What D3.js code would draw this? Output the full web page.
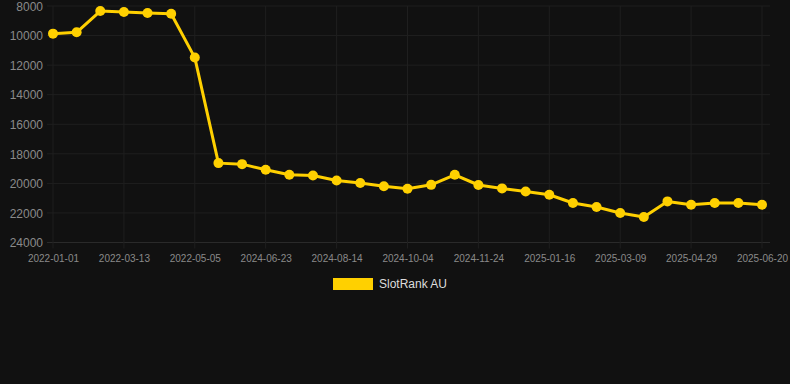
<!DOCTYPE html>
<html>
<head>
<meta charset="utf-8">
<script src="https://cdn.jsdelivr.net/npm/d3@7"></script>
<style>
  html, body { margin: 0; padding: 0; background: #111111; }
  #viz { width: 790px; height: 384px; }
  text { font-family: "Liberation Sans", Arial, sans-serif; }
</style>
</head>
<body>
<div id="viz"></div>
<script>
// dates on the x axis (every 3rd one is labelled)
var dates = ["2022-01-01","2022-01-25","2022-02-18","2022-03-13","2022-03-31","2022-04-18","2022-05-05",
  "2024-05-15","2024-06-06","2024-06-23","2024-07-10","2024-07-28","2024-08-14","2024-08-31","2024-09-17",
  "2024-10-04","2024-10-21","2024-11-07","2024-11-24","2024-12-11","2024-12-29","2025-01-16","2025-02-02",
  "2025-02-19","2025-03-09","2025-03-26","2025-04-12","2025-04-29","2025-05-16","2025-06-02","2025-06-20"]
var rank = [9870, 9780, 8340, 8400, 8470, 8520, 11490,
  18630, 18700, 19080, 19420, 19470, 19800, 19980, 20200,
  20360, 20100, 19420, 20110, 20340, 20550, 20770, 21330,
  21600, 22000, 22280, 21220, 21450, 21330, 21330, 21450]
var yTicks = [8000, 10000, 12000, 14000, 16000, 18000, 20000, 22000, 24000]
var seriesName = "SlotRank AU"

var W = 790, H = 384
var margin = {top: 6, left: 53, right: 28, bottom: 141}
var lineColor = "#ffd000"

function chartMaker() {
  var svg = d3.select("#viz").append("svg")
    .attr("width", W)
    .attr("height", H)

  var xScale = d3.scalePoint()
    .domain(dates)
    .range([margin.left, W - margin.right])

  var yScale = d3.scaleLinear()
    .domain([8000, 24000])
    .range([margin.top, H - margin.bottom - 0.5])

  var labelled = dates.filter(function(d, i) { return i % 3 == 0 })

  // grid
  svg.append("g")
    .selectAll("line")
    .data(yTicks)
    .enter()
    .append("line")
      .attr("x1", margin.left - 6)
      .attr("x2", W - margin.right + 8)
      .attr("y1", d => yScale(d))
      .attr("y2", d => yScale(d))
      .attr("stroke", d => d == 24000 ? "#2a2a2a" : "#1f1f1f")
      .attr("stroke-width", 1)

  svg.append("g")
    .selectAll("line")
    .data(labelled)
    .enter()
    .append("line")
      .attr("x1", d => xScale(d))
      .attr("x2", d => xScale(d))
      .attr("y1", margin.top)
      .attr("y2", yScale(24000) + 6)
      .attr("stroke", "#1f1f1f")
      .attr("stroke-width", 1)

  // axes
  var y_axis = d3.axisLeft(yScale)
    .tickValues(yTicks)
    .tickFormat(d3.format("d"))
    .tickSize(0)
    .tickPadding(0)

  var gy = svg.append("g")
    .attr("transform", "translate(" + (margin.left - 10) + ",0)")
    .call(y_axis)
  gy.select(".domain").remove()
  gy.selectAll("text")
    .attr("fill", "#8a8a8a")
    .style("font-size", "12px")
    .attr("dy", "0.35em")

  var x_axis = d3.axisBottom(xScale)
    .tickValues(labelled)
    .tickSize(0)
    .tickPadding(0)

  var gx = svg.append("g")
    .attr("transform", "translate(0," + (yScale(24000) + 12) + ")")
    .call(x_axis)
  gx.select(".domain").remove()
  gx.selectAll("text")
    .attr("fill", "#8a8a8a")
    .style("font-size", "10px")
    .attr("dy", "0.71em")

  // line
  var line = d3.line()
    .x((d, i) => xScale(dates[i]))
    .y(d => yScale(d))

  svg.append("path")
    .datum(rank)
    .attr("d", line)
    .attr("fill", "none")
    .attr("stroke", lineColor)
    .attr("stroke-width", 3)
    .attr("stroke-linejoin", "round")

  svg.append("g")
    .selectAll("circle")
    .data(rank)
    .enter()
    .append("circle")
      .attr("cx", (d, i) => xScale(dates[i]))
      .attr("cy", d => yScale(d))
      .attr("r", 5)
      .attr("fill", lineColor)

  // legend
  var legend = svg.append("g")
  legend.append("rect")
    .attr("x", 333)
    .attr("y", 278)
    .attr("width", 40)
    .attr("height", 12)
    .attr("fill", lineColor)
  legend.append("text")
    .attr("x", 379)
    .attr("y", 284)
    .attr("dy", "0.35em")
    .attr("fill", "#dddddd")
    .style("font-size", "12px")
    .text(seriesName)
}

chartMaker()
</script>
</body>
</html>
